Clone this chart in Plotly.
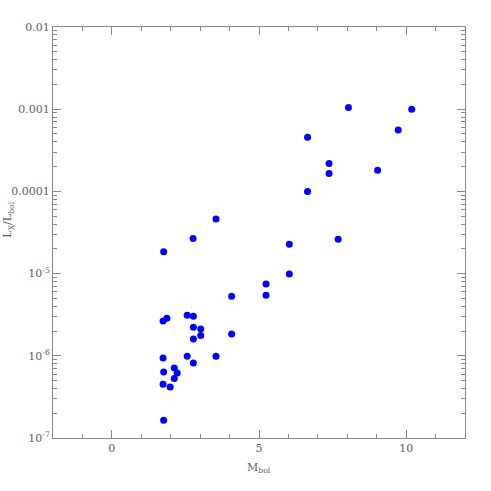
import plotly.graph_objects as go

# absolute bolometric magnitude
m_bol = [8.04, 10.19, 9.73, 6.65, 7.38, 7.38, 9.03, 6.65, 7.69, 6.03,
         6.03, 5.24, 5.24, 3.54, 2.76, 1.76, 4.07, 2.56, 2.77, 1.87,
         1.74, 2.77, 3.02, 3.02, 2.77, 4.07, 2.56, 3.54, 1.74, 2.77,
         2.12, 1.76, 2.22, 2.12, 1.74, 1.98, 1.76]

# X-ray to bolometric luminosity ratio
lx_lbol = [1.05e-3, 1.0e-3, 5.6e-4, 4.55e-4, 2.18e-4, 1.65e-4, 1.81e-4, 1.0e-4, 2.61e-5, 2.27e-5,
           9.9e-6, 7.47e-6, 5.44e-6, 4.6e-5, 2.67e-5, 1.85e-5, 5.3e-6, 3.11e-6, 3.02e-6, 2.86e-6,
           2.65e-6, 2.22e-6, 2.12e-6, 1.76e-6, 1.6e-6, 1.84e-6, 9.86e-7, 9.86e-7, 9.4e-7, 8.17e-7,
           7.1e-7, 6.36e-7, 6.18e-7, 5.28e-7, 4.5e-7, 4.17e-7, 1.64e-7]

y_tickvals = [1e-7, 1e-6, 1e-5, 1e-4, 1e-3, 1e-2]
y_ticktext = ["10<sup>-7</sup>", "10<sup>-6</sup>", "10<sup>-5</sup>", "0.0001", "0.001", "0.01"]

font = dict(family="DejaVu Serif", size=11, color="#606060")
axis_color = "#888888"

fig = go.Figure()
fig.add_trace(go.Scatter(
    x=m_bol,
    y=lx_lbol,
    mode="markers",
    marker=dict(color="#0000ff", size=7, line=dict(width=0)),
    showlegend=False
))

fig.update_xaxes(
    range=[-2, 12],
    tickvals=[0, 5, 10],
    ticks="inside",
    ticklen=8,
    tickcolor=axis_color,
    minor=dict(ticks="inside", dtick=1, ticklen=4, tickcolor=axis_color),
    showline=True,
    linecolor=axis_color,
    linewidth=1,
    mirror="ticks",
    showgrid=False,
    zeroline=False,
    tickfont=font,
    automargin=False,
)
fig.update_yaxes(
    type="log",
    range=[-7, -2],
    tickvals=y_tickvals,
    ticktext=y_ticktext,
    ticks="inside",
    ticklen=8,
    tickcolor=axis_color,
    minor=dict(ticks="inside", dtick="D1", ticklen=4, tickcolor=axis_color),
    showline=True,
    linecolor=axis_color,
    linewidth=1,
    mirror="ticks",
    showgrid=False,
    zeroline=False,
    tickfont=font,
    automargin=False,
)

fig.add_annotation(
    text="M<sub>bol</sub>", xref="paper", yref="paper", x=0.5, y=-0.05,
    xanchor="center", yanchor="top", showarrow=False, font=font
)
fig.add_annotation(
    text="L<sub>X</sub>/L<sub>bol</sub>", xref="paper", yref="paper", x=-0.108, y=0.53,
    xanchor="center", yanchor="middle", textangle=-90, showarrow=False, font=font
)

fig.update_layout(
    width=491,
    height=491,
    margin=dict(l=53, r=26, t=27, b=53),
    plot_bgcolor="white",
    paper_bgcolor="white",
)

fig.write_html("out.html", config={"displayModeBar": False},
               post_script="document.body.style.margin='0';")
